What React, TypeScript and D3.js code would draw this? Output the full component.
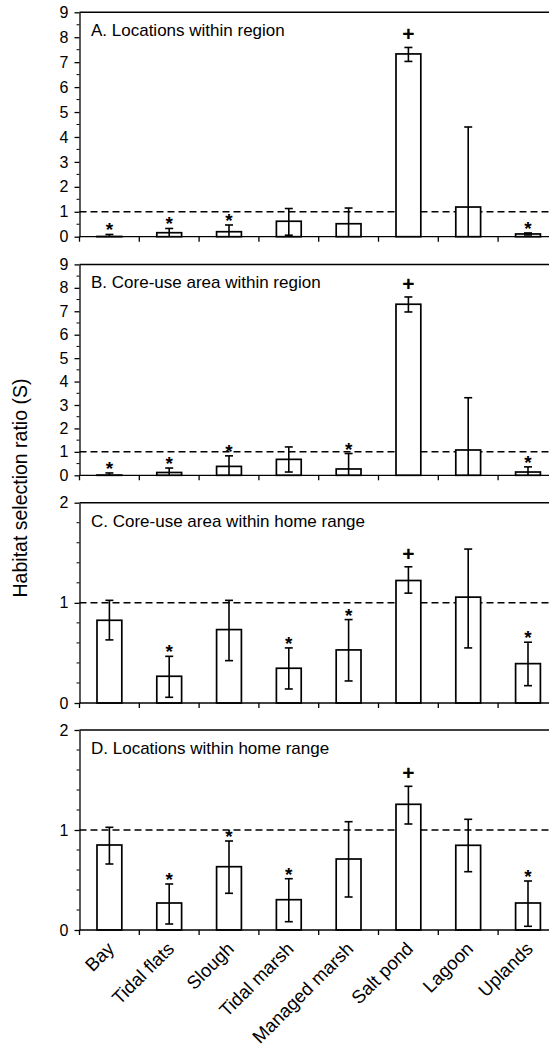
import { useEffect, useRef } from "react";
import * as d3 from "d3";

// habitat categories along the x axis
const categories = ["Bay", "Tidal flats", "Slough", "Tidal marsh", "Managed marsh", "Salt pond", "Lagoon", "Uplands"];

// A. Locations within region
const titleA = "A. Locations within region";
const meanA = [0.01, 0.16, 0.2, 0.62, 0.52, 7.33, 1.19, 0.11];
const upperA = [0.09, 0.33, 0.47, 1.13, 1.15, 7.59, 4.4, 0.15];
const lowerA = [0, 0, 0, 0.06, 0, 7.03, 0, 0.07];
const marksA = ["*", "*", "*", "", "", "+", "", "*"];

// B. Core-use area within region
const titleB = "B. Core-use area within region";
const meanB = [0.01, 0.12, 0.38, 0.68, 0.27, 7.3, 1.08, 0.14];
const upperB = [0.1, 0.31, 0.83, 1.21, 0.93, 7.61, 3.31, 0.36];
const lowerB = [0, 0, 0, 0.14, 0, 6.97, 0, 0];
const marksB = ["*", "*", "*", "", "*", "+", "", "*"];

// C. Core-use area within home range
const titleC = "C. Core-use area within home range";
const meanC = [0.826, 0.267, 0.733, 0.347, 0.53, 1.223, 1.057, 0.393];
const upperC = [1.025, 0.466, 1.025, 0.55, 0.833, 1.36, 1.537, 0.607];
const lowerC = [0.63, 0.057, 0.423, 0.14, 0.22, 1.097, 0.55, 0.173];
const marksC = ["", "*", "", "*", "*", "+", "", "*"];

// D. Locations within home range
const titleD = "D. Locations within home range";
const meanD = [0.85, 0.27, 0.633, 0.303, 0.71, 1.257, 0.847, 0.27];
const upperD = [1.027, 0.46, 0.89, 0.513, 1.083, 1.437, 1.107, 0.49];
const lowerD = [0.66, 0.06, 0.367, 0.083, 0.33, 1.06, 0.583, 0.037];
const marksD = ["", "*", "*", "*", "", "+", "", "*"];

// y ticks
const ticksRegion = [0, 1, 2, 3, 4, 5, 6, 7, 8, 9];
const minorRegion = [0.5, 1.5, 2.5, 3.5, 4.5, 5.5, 6.5, 7.5, 8.5];
const ticksHome = [0, 1, 2];
const minorHome = [0.2, 0.4, 0.6, 0.8, 1.2, 1.4, 1.6, 1.8];

const yLabel = "Habitat selection ratio (S)";
const refLine = 1;

const W = 549;
const H = 1046;
const FONT = "Arial, 'Liberation Sans', Helvetica, sans-serif";

function App() {
  const svgRef = useRef<SVGSVGElement>(null);

  useEffect(() => {
    const svg = d3.select(svgRef.current);
    svg.selectAll("*").remove();

    const left = 79.5;
    const step = 59.8;
    const right = W;

    const x = d3
      .scaleBand()
      .domain(categories)
      .range([left, left + step * categories.length])
      .paddingInner(0.585)
      .paddingOuter(0.2925);

    const panels = [
      { title: titleA, mean: meanA, upper: upperA, lower: lowerA, marks: marksA, max: 9, ticks: ticksRegion, minor: minorRegion, top: 12.3, bottom: 236.7 },
      { title: titleB, mean: meanB, upper: upperB, lower: lowerB, marks: marksB, max: 9, ticks: ticksRegion, minor: minorRegion, top: 264.4, bottom: 475.3 },
      { title: titleC, mean: meanC, upper: upperC, lower: lowerC, marks: marksC, max: 2, ticks: ticksHome, minor: minorHome, top: 502.7, bottom: 703 },
      { title: titleD, mean: meanD, upper: upperD, lower: lowerD, marks: marksD, max: 2, ticks: ticksHome, minor: minorHome, top: 730, bottom: 930 },
    ];

    panels.forEach((p) => {
      const y = d3.scaleLinear().domain([0, p.max]).range([p.bottom, p.top]);
      const g = svg.append("g");

      // top frame line
      g.append("line")
        .attr("x1", left).attr("x2", right)
        .attr("y1", y(p.max)).attr("y2", y(p.max))
        .attr("stroke", "#000").attr("stroke-width", 1.5);

      // reference line at S = 1
      g.append("line")
        .attr("x1", left).attr("x2", right)
        .attr("y1", y(refLine)).attr("y2", y(refLine))
        .attr("stroke", "#000").attr("stroke-width", 1.5)
        .attr("stroke-dasharray", "7,4");

      const rows = categories.map((c, i) => ({
        c, mean: p.mean[i], hi: p.upper[i], lo: p.lower[i], mark: p.marks[i],
      }));

      g.selectAll("rect.bar")
        .data(rows)
        .enter()
        .append("rect")
        .attr("class", "bar")
        .attr("x", (d) => x(d.c)!)
        .attr("width", x.bandwidth())
        .attr("y", (d) => y(d.mean))
        .attr("height", (d) => y(0) - y(d.mean))
        .attr("fill", "#fff")
        .attr("stroke", "#000")
        .attr("stroke-width", 1.7);

      const cap = 4;
      const eb = g.selectAll("g.err").data(rows.filter((d) => d.hi > d.mean)).enter().append("g")
        .attr("stroke", "#000").attr("stroke-width", 1.6);
      const cx = (d: any) => x(d.c)! + x.bandwidth() / 2;
      eb.append("line")
        .attr("x1", cx).attr("x2", cx)
        .attr("y1", (d) => y(d.lo)).attr("y2", (d) => y(d.hi));
      eb.append("line")
        .attr("x1", (d) => cx(d) - cap).attr("x2", (d) => cx(d) + cap)
        .attr("y1", (d) => y(d.hi)).attr("y2", (d) => y(d.hi));
      eb.filter((d) => d.lo > 0).append("line")
        .attr("x1", (d) => cx(d) - cap).attr("x2", (d) => cx(d) + cap)
        .attr("y1", (d) => y(d.lo)).attr("y2", (d) => y(d.lo));

      // significance marks
      g.selectAll("text.mark")
        .data(rows.filter((d) => d.mark))
        .enter()
        .append("text")
        .attr("class", "mark")
        .attr("x", cx)
        .attr("y", (d) => (d.mark === "+" ? y(d.hi) - 6 : y(d.hi) + 2))
        .attr("text-anchor", "middle")
        .attr("font-family", FONT)
        .attr("font-weight", "bold")
        .attr("font-size", (d) => (d.mark === "+" ? 21 : 19))
        .text((d) => d.mark);

      // y axis
      const yAxis = g.append("g")
        .attr("transform", `translate(${left},0)`)
        .call(
          d3.axisLeft(y).tickValues(p.ticks).tickFormat(d3.format("d")).tickSize(5).tickSizeOuter(0).tickPadding(6)
        );
      yAxis.select(".domain").attr("stroke-width", 1.3);
      yAxis.selectAll(".tick line").attr("stroke-width", 1.3);
      yAxis.selectAll("text").attr("font-family", FONT).attr("font-size", 16).attr("fill", "#000");
      g.selectAll("line.minor")
        .data(p.minor)
        .enter()
        .append("line")
        .attr("class", "minor")
        .attr("x1", left - 3).attr("x2", left)
        .attr("y1", (d) => y(d)).attr("y2", (d) => y(d))
        .attr("stroke", "#000").attr("stroke-width", 1);

      // x axis line with category boundary ticks
      g.append("line")
        .attr("x1", left).attr("x2", right)
        .attr("y1", y(0)).attr("y2", y(0))
        .attr("stroke", "#000").attr("stroke-width", 1.3);
      const gap = (x.step() - x.bandwidth()) / 2;
      g.selectAll("line.xt")
        .data(categories)
        .enter()
        .append("line")
        .attr("class", "xt")
        .attr("x1", (c) => x(c)! - gap).attr("x2", (c) => x(c)! - gap)
        .attr("y1", y(0)).attr("y2", y(0) + 5)
        .attr("stroke", "#000").attr("stroke-width", 1.3);

      g.append("text")
        .attr("x", 91)
        .attr("y", p.top + 24)
        .attr("font-family", FONT)
        .attr("font-size", 17)
        .text(p.title);
    });

    // category labels under last panel
    const last = panels[panels.length - 1];
    svg.selectAll("text.cat")
      .data(categories)
      .enter()
      .append("text")
      .attr("class", "cat")
      .attr("text-anchor", "end")
      .attr("font-family", FONT)
      .attr("font-size", 18.5)
      .attr("transform", (c) => `translate(${x(c)! + x.bandwidth() / 2 + 6},${last.bottom + 20}) rotate(-45)`)
      .text((c) => c);

    svg.append("text")
      .attr("transform", `translate(27,488) rotate(-90)`)
      .attr("text-anchor", "middle")
      .attr("font-family", FONT)
      .attr("font-size", 19.5)
      .text(yLabel);
  }, []);

  return (
    <svg
      ref={svgRef}
      width={W}
      height={H}
      style={{ position: "absolute", left: 0, top: 0, background: "#fff" }}
    />
  );
}

export default App;
